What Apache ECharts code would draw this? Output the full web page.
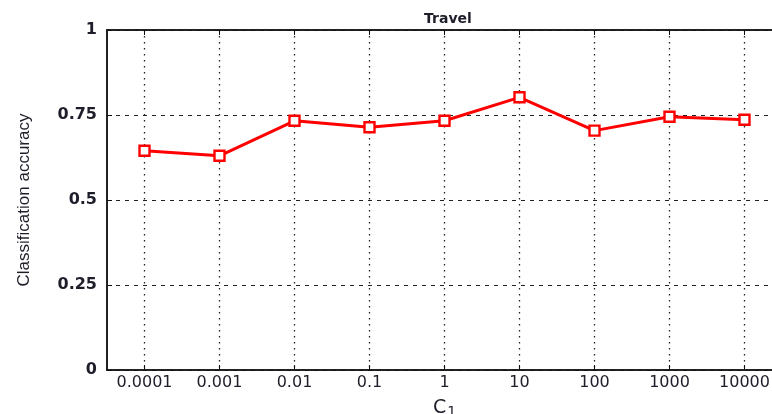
<!DOCTYPE html>
<html>
<head>
<meta charset="utf-8">
<script src="https://cdn.jsdelivr.net/npm/echarts@6/dist/echarts.min.js"></script>
<style>html,body{margin:0;padding:0;background:#fff;}#c{width:772px;height:414px;}</style>
</head>
<body>
<div id="c"></div>
<script>
const categories = ['0.0001','0.001','0.01','0.1','1','10','100','1000','10000'];
const accuracy = [0.645, 0.630, 0.733, 0.714, 0.733, 0.802, 0.704, 0.745, 0.736];
const yTicks = [0, 0.25, 0.5, 0.75, 1];
const titleText = 'Travel';
const yName = 'Classification accuracy';

const chart = echarts.init(document.getElementById('c'), null, {renderer: 'canvas'});
const txt = '#1e1e2a';
chart.setOption({
  backgroundColor: '#fff',
  animation: false,
  title: {
    text: titleText, left: 443, top: 7, textAlign: 'center',
    textStyle: {fontFamily: 'DejaVu Sans', fontSize: 14, fontWeight: 'bold', color: txt}
  },
  grid: {left: 107, top: 30, width: 675, height: 340, show: true, borderColor: '#222', borderWidth: 1.5,
         backgroundColor: 'transparent', outerBoundsMode: 'none', containLabel: false},
  xAxis: [{
    type: 'category', data: categories, boundaryGap: true,
    name: 'C{s|1}', nameLocation: 'middle', nameGap: 19,
    nameTextStyle: {
      fontFamily: 'DejaVu Sans', fontSize: 19, color: txt, verticalAlign: 'top', lineHeight: 22,
      rich: {s: {fontFamily: 'DejaVu Sans', fontSize: 14, color: txt, verticalAlign: 'bottom', lineHeight: 22, padding: [9, 0, 0, 1]}}
    },
    axisLine: {show: true, lineStyle: {color: '#111', width: 1.5}},
    axisTick: {show: true, inside: true, alignWithLabel: true, length: 5, lineStyle: {color: '#111'}},
    axisLabel: {fontFamily: 'DejaVu Sans', fontSize: 16, color: txt, margin: 5},
    splitLine: {show: true, alignWithLabel: true, lineStyle: {color: '#222', type: [1.5, 4.5], width: 1.3}}
  }, {
    type: 'category', data: categories, boundaryGap: true, position: 'top',
    axisLine: {show: true, lineStyle: {color: '#111', width: 1.5}},
    axisTick: {show: true, inside: true, alignWithLabel: true, length: 5, lineStyle: {color: '#111'}},
    axisLabel: {show: false},
    splitLine: {show: false}
  }],
  yAxis: {
    type: 'value', min: 0, max: 1, interval: 0.25,
    name: yName, nameLocation: 'middle', nameGap: 74, nameRotate: 90,
    nameTextStyle: {fontFamily: 'Liberation Sans', fontSize: 17, color: txt},
    axisLine: {show: true, lineStyle: {color: '#111', width: 1.5}},
    axisTick: {show: true, inside: true, length: 5, lineStyle: {color: '#111'}},
    axisLabel: {
      fontFamily: 'DejaVu Sans', fontSize: 16, fontWeight: 'bold', color: txt, margin: 10,
      formatter: v => { const t = yTicks.find(x => Math.abs(x - v) < 1e-9); return t === undefined ? '' : String(t); }
    },
    splitLine: {show: true, lineStyle: {color: '#222', type: [4, 5], width: 1.2}}
  },
  series: [{
    type: 'line', data: accuracy,
    lineStyle: {color: '#ff0000', width: 3},
    symbol: 'rect', symbolSize: 10,
    itemStyle: {color: '#fff', borderColor: '#ff0000', borderWidth: 2.4},
    z: 5
  }]
});
</script>
</body>
</html>
